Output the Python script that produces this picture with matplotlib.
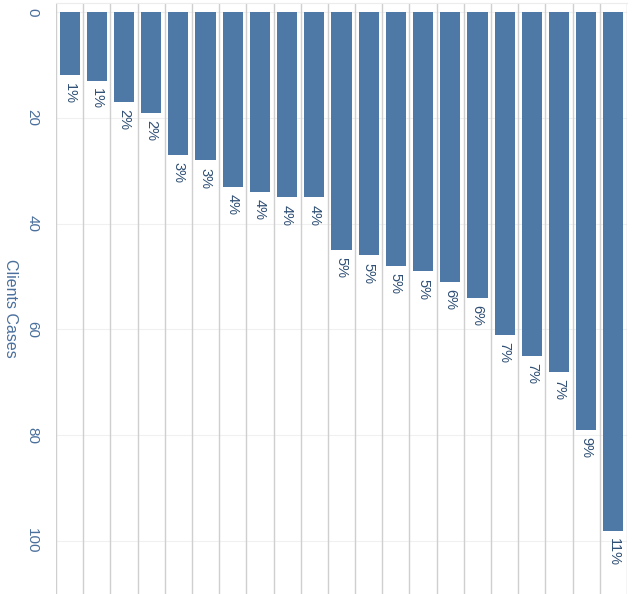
import numpy as np
import matplotlib.pyplot as plt

# %% Data
cases = [12, 13, 17, 19, 27, 28, 33, 34, 35, 35, 45, 46, 48, 49, 51, 54, 61, 65, 68, 79, 98]
total = sum(cases)
pct_labels = [f"{round(100 * c / total)}%" for c in cases]
y_ticks = [0, 20, 40, 60, 80, 100]

BAR_COLOR = "#4e79a7"
TEXT_COLOR = "#2f4f75"
TICK_COLOR = "#4a6f9c"

plt.rcParams['font.family'] = ['Liberation Sans', 'DejaVu Sans']

# %% Figure
fig = plt.figure(figsize=(6.35, 5.94), dpi=100)
ax = fig.add_axes([56 / 635, 0, 571 / 635, 591 / 594])

x = np.arange(len(cases))
ax.bar(x, cases, width=0.74, color=BAR_COLOR, zorder=3)

# column separators
for b in np.arange(len(cases) + 1) - 0.5:
    ax.axvline(b, color="#cfcfcf", lw=1.0, zorder=1)

for yt in y_ticks:
    ax.axhline(yt, color="#f0f0f0", lw=0.8, zorder=0)

for xi, c, lab in zip(x, cases, pct_labels):
    ax.text(xi, c + 1.4, lab, rotation=270, ha="center", va="top",
            fontsize=10.5, color=TEXT_COLOR, zorder=4)

ax.set_xlim(-0.5, len(cases) - 0.5)
ax.set_ylim(110.0, -1.7)
ax.set_yticks(y_ticks)
ax.set_yticklabels([str(t) for t in y_ticks], rotation=270, va="center",
                   color=TICK_COLOR, fontsize=11)
ax.tick_params(axis="y", length=0, pad=12)
ax.set_xticks([])
for s in ax.spines.values():
    s.set_visible(False)
ax.spines["top"].set_visible(True)
ax.spines["top"].set_color("#ececec")

fig.text(10 / 635, 1 - 308 / 594, "Clients Cases", rotation=270, ha="center",
         va="center", color=TICK_COLOR, fontsize=11.5)

fig.savefig("out.png", dpi=100)
